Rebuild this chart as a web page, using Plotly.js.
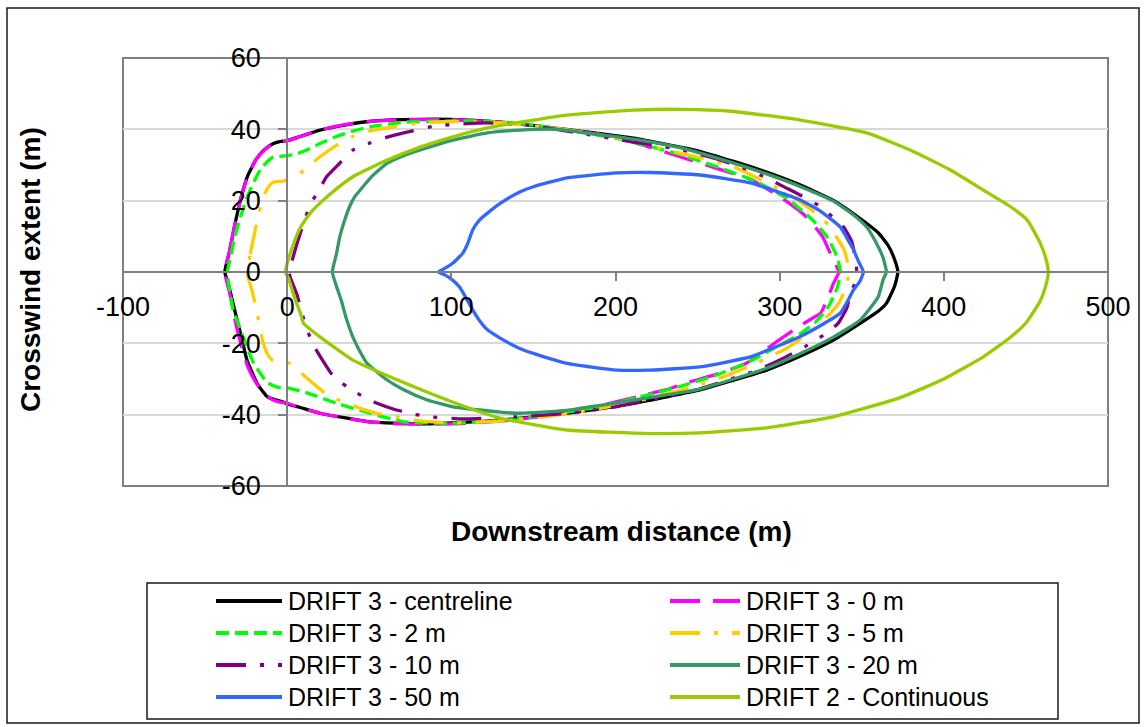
<!DOCTYPE html>
<html>
<head>
<meta charset="utf-8">
<script src="https://cdn.plot.ly/plotly-3.0.1.min.js"></script>
<style>
  html, body { margin: 0; padding: 0; background: #ffffff; }
  #chart { width: 1145px; height: 727px; }
</style>
</head>
<body>
<div id="chart"></div>
<script>
// ---- Data ----
const seriesNames = [
  "DRIFT 3 - centreline", "DRIFT 3 - 0 m", "DRIFT 3 - 2 m", "DRIFT 3 - 5 m",
  "DRIFT 3 - 10 m", "DRIFT 3 - 20 m", "DRIFT 3 - 50 m", "DRIFT 2 - Continuous"
];

const centrelineX = [-38,-35,-32,-28,-24,-19,-14,-9,-4,0,8,20,35,50,70,100,130,170,211,250,272,292,312,333,349,360,366,370,372,
  370,365,360,349,333,312,292,272,252,211,170,130,100,81,50,20,8,0,-2,-6,-12,-18,-24.5,-28,-33,-36,-38];
const centrelineY = [0,6,13,21,27,31.5,34.2,35.9,36.6,36.8,38,39.8,41.2,42.2,42.7,42.8,42,40,37.5,34,31,28,24.5,20,15,11,7.5,3.5,0,
  -4,-8.8,-11,-14.4,-19,-23.7,-27.5,-30.3,-33,-36.8,-39.6,-41.5,-42.3,-42.6,-42,-39.6,-38,-37,-36.5,-36,-35,-31.5,-24.7,-18,-8.8,-3,0];

const m0X = [-38,-35,-32,-28,-24,-19,-14,-9,-4,0,8,20,35,50,70,100,130,160,200,231,262,282,302,315,326,332,336,
  333,329,325,318,311,298,280,264,244,231,213,190,160,130,100,70,50,20,8,0,-4,-9,-14,-19,-24,-28,-32,-35,-38];
const m0Y = [0,6,13,21,27,31.5,34.2,35.9,36.6,36.8,38,39.8,41.3,42.2,42.7,42.7,42,40.4,37.8,33.5,29,26,20.5,16,10,4,0,
  -3,-7.5,-11.5,-13.5,-15.5,-19.6,-25.5,-28.3,-31,-33,-35,-37.5,-40.2,-41.8,-42.6,-42.6,-42,-39.6,-38,-36.8,-36.5,-35.8,-34,-31,-26.5,-20.5,-13,-6,0];

const m2X = [-36.5,-34,-32,-28,-24.4,-20,-16.4,-12,-8.5,-2.4,5,12,20,30,40,50.5,71,91,120,145,175,205,235,262,285,305,320,329,335,337,
  335,330,322,312,298,280,262,240,215,190,160,130,100,71,50.5,30,12,0,-6,-12,-17,-21,-24.5,-29,-33,-35,-36.5];
const m2Y = [0,5,9.8,16,21,25.5,28.6,31,32.2,32.5,33,34.2,36,38,39.5,40.7,42,42.3,42.3,41.5,39.5,37,33.5,29.5,25.5,20.5,14.6,9.8,4.2,0,
  -4.5,-9.5,-14,-17.5,-21,-25.5,-28.8,-32,-35,-37.8,-40,-41.6,-42.4,-42,-39.6,-36.8,-33.9,-32.5,-32.3,-31,-28,-25,-21,-15.5,-10.5,-5,0];

const m5X = [-24.4,-22.5,-20.7,-18,-14.6,-11.5,-8.5,-2.4,3,8,14,20,30,40,50,61,81,101,130,160,190,210,231,252,272,290,305,316,325,331,335,339,341,342,
  341,336,330,325,315,304.6,295,286,265.6,247,220,190,160,130,99,77,66,54.8,45,36.5,25.6,17,9,1,-4,-9.1,-12,-14.6,-18.3,-21,-24.4];
const m5Y = [0,5,9,15,21,23.8,25.2,25.5,26.3,27.7,30,32.3,35.5,38,39.5,40.4,41.8,42.2,41.8,40.5,38.6,36.8,34.2,32,29.5,25.5,22,18.5,15.4,12.5,9.5,6.5,3.4,0,
  -3.6,-8.8,-12,-14.3,-18,-21.3,-23.5,-25.5,-29.4,-32.2,-35.5,-38.3,-40.4,-41.8,-42.3,-41.5,-40.6,-39.6,-38.3,-36.8,-34.8,-31.7,-28.5,-25.5,-25.2,-24.7,-23,-20,-11.5,-6,0];

const m10X = [1,3.5,6,10,14,20,24,32,40,50.5,61,71,91,122,146,180,210,223,241,252.6,263.7,276,292,303,313.6,325,332,339,344,346,347,
  346,343,341,335.6,326.6,317,300,289,278,268,249.6,227,200,172,140,107,87,76,64.6,54.8,45,36.5,28,21.5,16,12,9,6,2,1];
const m10Y = [0,4,8,13.7,18.8,23.5,26.7,30.5,34.2,36.2,37.8,39,41,41.8,41.2,38.8,36.5,35.6,34.2,32.8,31.4,29.5,26.4,23.8,21.3,18.3,15.5,12.6,8.4,4,0,
  -3,-6,-10,-14.4,-17.7,-20.5,-24.7,-27,-28.9,-30.3,-33,-35.3,-37.8,-39.6,-40.6,-41.2,-40.6,-39.8,-38.4,-36.8,-34.6,-32.2,-29.2,-24.7,-20.5,-16,-11.5,-6.4,-1.7,0];

const m20X = [27.5,30,32,35,38,41,44.5,52,61,71,81,101,122,142,165,190,215,240,265,292,315,333,345,353,359,363,365,
  363,360,349,333,312,292,272,250,211,170,142,130,101,85,71,60,48.7,44,40,36,33,30,27.5];
const m20Y = [0,5,9.8,14.5,18.3,21,23,27,30.5,32.6,34.2,37,39,39.8,40,38.5,37,34.8,31.5,27.5,23.5,19.8,16,12.6,8,4,0,
  -2.2,-7,-13.5,-18.2,-23,-27,-30,-33,-35.9,-38.8,-39.6,-39.3,-37.8,-35.8,-33,-30,-25.6,-22,-18.2,-13,-8,-4,0];

const m50X = [92,96,101,107,110,113,117,122,130,142,150,170.5,201,221,251.6,282,312.5,325,337,341,345,348,351,
  349,345,341,337,325,312,282,251.6,221,201,170.5,150,142,130,122,117,113,108,105,100,96,92];
const m50Y = [0,1,2.5,5.3,8,11.8,14.5,16.5,19.3,22.5,23.9,26.4,27.8,27.9,27.2,25,20.2,17,12.6,9.5,6.2,3,0,
  -2.5,-5,-8.5,-11.5,-15,-18.2,-23.8,-26.6,-27.5,-27.5,-25.6,-22.8,-21.5,-18.6,-16.2,-13.5,-10.6,-6.5,-4.2,-2,-0.8,0];

const contX = [-1,1,4,7,11,15,20,30,40,61,81,101,122,142,170.5,211,241,272,312.5,353,379.5,404,424,440,450.7,458.7,462,463.6,
  462,458.7,450,440,424,400,373,332.6,292,251.6,221,170.5,130,101,71,40,20,10,8,4,1,-1];
const contY = [0,4,8,11.5,14.6,17,19.3,23.3,26.7,31.4,35,37.9,40.4,42,44,45.4,45.6,45,42.6,39,34.2,28.6,23,18.5,14.6,8.1,4,0,
  -4,-8.1,-14.3,-18.5,-23.8,-30,-35.3,-40.6,-43.7,-45.1,-45.3,-44.3,-41,-36.5,-31,-24.7,-18.2,-14.4,-11.5,-6.5,-2,0];

const xTickVals = [-100, 0, 100, 200, 300, 400, 500];
const yTickVals = [-60, -40, -20, 0, 20, 40, 60];
const xTitle = "Downstream distance (m)";
const yTitle = "Crosswind extent (m)";

// ---- Styles ----
const seriesX = [centrelineX, m0X, m2X, m5X, m10X, m20X, m50X, contX];
const seriesY = [centrelineY, m0Y, m2Y, m5Y, m10Y, m20Y, m50Y, contY];
const seriesColors = ["#000000", "#FF00FF", "#00FF00", "#FFCC00", "#800080", "#339966", "#3366FF", "#99CC00"];
const seriesDash = ["solid", "30px,13px", "13px,6px", "30px,14px,4px,14px", "30px,14px,4px,14px,4px,14px", "solid", "solid", "solid"];
const LW = 3.3;
const FONT = "Liberation Sans, Arial, Helvetica, sans-serif";

const traces = seriesNames.map((name, i) => ({
  type: "scatter",
  mode: "lines",
  name: name,
  x: seriesX[i],
  y: seriesY[i],
  line: { color: seriesColors[i], width: LW, dash: seriesDash[i], shape: "spline", smoothing: 0.45 },
  showlegend: false,
  hoverinfo: "skip"
}));

// pixel -> paper helpers for layout decorations (plot area 123..1108 x 58..486)
const PL = 123, PR = 1108, PT = 58, PB = 486;
const px = v => (v - PL) / (PR - PL);
const py = v => (PB - v) / (PB - PT);

const shapes = [
  // outer chart border
  { type: "rect", xref: "paper", yref: "paper", x0: px(7), x1: px(1139), y0: py(723), y1: py(8),
    line: { color: "#1a1a1a", width: 1.5 }, layer: "below" },
  // plot area border
  { type: "rect", xref: "paper", yref: "paper", x0: 0, x1: 1, y0: 0, y1: 1,
    line: { color: "#808080", width: 2 }, layer: "below" },
  // legend box
  { type: "rect", xref: "paper", yref: "paper", x0: px(147), x1: px(1058), y0: py(719), y1: py(583),
    line: { color: "#1a1a1a", width: 1.5 }, layer: "above" }
];

const annotations = [
  { text: "<b>" + xTitle + "</b>", xref: "paper", yref: "paper", x: px(621), y: py(531),
    xanchor: "center", yanchor: "middle", showarrow: false, font: { family: FONT, size: 28, color: "#000" } },
  { text: "<b>" + yTitle + "</b>", xref: "paper", yref: "paper", x: px(30), y: py(270), textangle: -90,
    xanchor: "center", yanchor: "middle", showarrow: false, font: { family: FONT, size: 28, color: "#000" } }
];

// custom legend: two columns, row-wise order
const rowY = [601, 633, 665, 697];
const colSample = [[216, 282], [670, 740]];
const colText = [286, 744];
seriesNames.forEach((name, i) => {
  const row = Math.floor(i / 2), col = i % 2;
  shapes.push({ type: "line", xref: "paper", yref: "paper",
    x0: px(colSample[col][0]), x1: px(colSample[col][1]), y0: py(rowY[row]), y1: py(rowY[row]),
    line: { color: seriesColors[i], width: LW + 0.5, dash: seriesDash[i] }, layer: "above" });
  annotations.push({ text: name, xref: "paper", yref: "paper", x: px(colText[col]), y: py(rowY[row]),
    xanchor: "left", yanchor: "middle", showarrow: false, font: { family: FONT, size: 25, color: "#000" } });
});

const layout = {
  width: 1145, height: 727,
  margin: { l: PL, r: 1145 - PR, t: PT, b: 727 - PB, pad: 0 },
  paper_bgcolor: "#ffffff", plot_bgcolor: "#ffffff",
  font: { family: FONT, color: "#000" },
  showlegend: false,
  xaxis: {
    range: [-100, 500], tickmode: "array", tickvals: xTickVals, ticktext: xTickVals.map(String),
    anchor: "free", position: 0.5, side: "bottom",
    showline: true, linecolor: "#808080", linewidth: 2,
    ticks: "outside", ticklen: 8, tickwidth: 2, tickcolor: "#808080",
    showgrid: false, zeroline: false,
    tickfont: { family: FONT, size: 27, color: "#000" }, ticklabelstandoff: 3
  },
  yaxis: {
    range: [-60, 60], tickmode: "array", tickvals: yTickVals, ticktext: yTickVals.map(String),
    anchor: "free", position: 100 / 600, side: "left",
    showline: true, linecolor: "#808080", linewidth: 2,
    ticks: "outside", ticklen: 8, tickwidth: 2, tickcolor: "#808080",
    showgrid: true, gridcolor: "#d9d9d9", gridwidth: 2, zeroline: false,
    tickfont: { family: FONT, size: 27, color: "#000" }, ticklabelstandoff: 12
  },
  shapes: shapes,
  annotations: annotations
};

Plotly.newPlot("chart", traces, layout, { staticPlot: true, displayModeBar: false });
</script>
</body>
</html>
